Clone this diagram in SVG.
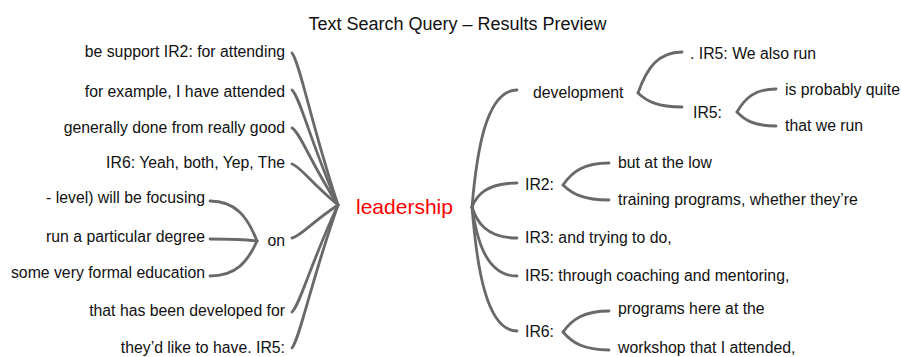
<svg xmlns="http://www.w3.org/2000/svg" width="901" height="357" viewBox="0 0 901 357">
<style>
text{font-family:"Liberation Sans",Arial,Helvetica,sans-serif;font-size:15.8px;fill:#111}
.e{text-anchor:end}
.title{font-size:18px;text-anchor:middle}
.root{font-size:21px;fill:#ff0000}
#connectors path{fill:none;stroke:#696969;stroke-width:2.8;stroke-linecap:round}
</style>
<rect width="901" height="357" fill="#fff"/>
<text class="title" x="457.5" y="30">Text Search Query – Results Preview</text>
<g id="connectors">
<path d="M292,53 C300,63 310.4,121.4 338,205"/>
<path d="M292,90 C300,97 310.4,141.75 338,205"/>
<path d="M292,128 C300,132 310.4,162.65 338,205"/>
<path d="M292,164 C300,166 310.4,182.45 338,205"/>
<path d="M292,238 C300,237 310.4,223.15 338,205"/>
<path d="M292,312 C300,305 310.4,263.85 338,205"/>
<path d="M292,348 C300,338 310.4,283.65 338,205"/>
<path d="M257,241 C247.6,217 235.85,201 210,201"/>
<path d="M257,241 C247.6,239.8 235.85,239 210,239"/>
<path d="M257,241 C247.6,262 235.85,276 210,276"/>
<path d="M472,207 C476.5,154.35 485.5,90 517,90"/>
<path d="M472,207 C476.5,196.2 485.5,183 517,183"/>
<path d="M472,207 C476.5,220.95 485.5,238 517,238"/>
<path d="M472,207 C476.5,238.05 485.5,276 517,276"/>
<path d="M472,207 C476.5,262.8 485.5,331 517,331"/>
<path d="M638,93 C646.8,68.4 657.8,52 682,52"/>
<path d="M638,93 C646.8,101.4 657.8,107 682,107"/>
<path d="M737,112 C744.8,98.2 754.55,89 776,89"/>
<path d="M737,112 C744.8,120.4 754.55,126 776,126"/>
<path d="M563,185 C572.2,171.8 583.7,163 609,163"/>
<path d="M563,185 C572.2,194 583.7,200 609,200"/>
<path d="M563,332 C572.2,319.4 583.7,311 609,311"/>
<path d="M563,332 C572.2,342.8 583.7,350 609,350"/>
</g>
<g id="n-root"><text class="root" x="356" y="214">leadership</text></g>
<g id="n-l1"><text class="e" x="285" y="57">be support IR2: for attending</text></g>
<g id="n-l2"><text class="e" x="285" y="97">for example, I have attended</text></g>
<g id="n-l3"><text class="e" x="285" y="133">generally done from really good</text></g>
<g id="n-l4"><text class="e" x="285" y="168">IR6: Yeah, both, Yep, The</text></g>
<g id="n-on"><text class="e" x="285" y="246">on</text></g>
<g id="n-on1"><text class="e" x="205" y="203">- level) will be focusing</text></g>
<g id="n-on2"><text class="e" x="205" y="242">run a particular degree</text></g>
<g id="n-on3"><text class="e" x="205" y="278">some very formal education</text></g>
<g id="n-l6"><text class="e" x="285" y="316">that has been developed for</text></g>
<g id="n-l7"><text class="e" x="285" y="353">they’d like to have. IR5:</text></g>
<g id="n-dev"><text x="533" y="98">development</text></g>
<g id="n-dev1"><text x="690" y="59">. IR5: We also run</text></g>
<g id="n-dev2"><text x="693" y="118">IR5:</text></g>
<g id="n-dev2a"><text x="785" y="95">is probably quite</text></g>
<g id="n-dev2b"><text x="785" y="131">that we run</text></g>
<g id="n-ir2"><text x="525" y="190">IR2:</text></g>
<g id="n-ir2a"><text x="618" y="168">but at the low</text></g>
<g id="n-ir2b"><text x="618" y="205">training programs, whether they’re</text></g>
<g id="n-ir3"><text x="525" y="243">IR3: and trying to do,</text></g>
<g id="n-ir5"><text x="525" y="281">IR5: through coaching and mentoring,</text></g>
<g id="n-ir6"><text x="525" y="337">IR6:</text></g>
<g id="n-ir6a"><text x="618" y="314">programs here at the</text></g>
<g id="n-ir6b"><text x="618" y="353">workshop that I attended,</text></g>
</svg>
